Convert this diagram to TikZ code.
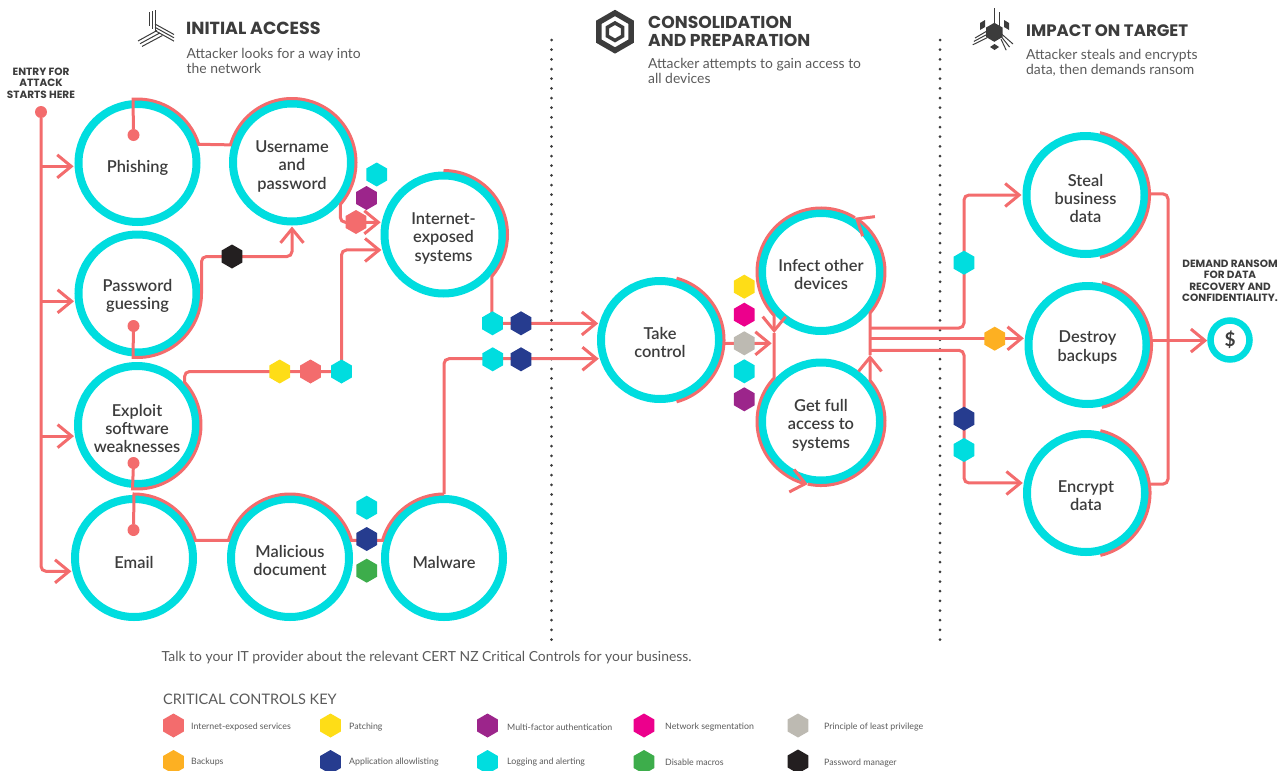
\documentclass[tikz,border=0pt]{standalone}
\usepackage{fontspec}
\setmainfont{Lato}
\newfontfamily\headfont{Poppins}
\newfontfamily\stagefont{Lato Semibold}
\usetikzlibrary{arrows.meta, shapes.geometric}
\definecolor{coral}{HTML}{F36C6D}
\definecolor{ringcyan}{HTML}{00DDDF}
\definecolor{inkgrey}{HTML}{3C3C3C}
\definecolor{softgrey}{HTML}{5A5A5A}
\definecolor{ctlyellow}{HTML}{FEDD17}
\definecolor{ctlpurple}{HTML}{9C258B}
\definecolor{ctlmagenta}{HTML}{EC008C}
\definecolor{ctlstone}{HTML}{BDBAB2}
\definecolor{ctlorange}{HTML}{FDB022}
\definecolor{ctlblue}{HTML}{263C8F}
\definecolor{ctlgreen}{HTML}{3DAD4B}
\definecolor{ctlblack}{HTML}{231F20}
\begin{document}
\begin{tikzpicture}[
    x=1pt, y=-1pt,
    every node/.style={align=center, text=inkgrey},
    stage/.style={circle, draw=ringcyan, line width=8pt, minimum size=118pt, outer sep=5pt, inner sep=0pt, font=\stagefont\fontsize{16.4}{18.4}\selectfont, execute at begin node={\rule{0pt}{#1}}},
    stage/.default=21pt,
    stagetwo/.style={stage=35.5pt},
    stagethree/.style={stage=56pt},
    dot/.style={circle, fill=coral, minimum size=12pt, inner sep=0pt},
    flow/.style={draw=coral, line width=3pt},
    flowarrow/.style={flow, -{Straight Barb[length=14pt, width=23pt]}},
    hexa/.style={regular polygon, regular polygon sides=6, shape border rotate=30, minimum size=24pt, inner sep=0pt, outer sep=0pt},
    heading/.style={anchor=west, align=left, inner sep=0pt, font=\headfont\fontsize{17.2}{18}\selectfont\bfseries},
    blurb/.style={anchor=west, align=left, inner sep=0pt, text=softgrey, font=\fontsize{13.9}{15}\selectfont},
    caps/.style={font=\headfont\fontsize{10.5}{11.5}\selectfont\bfseries},
    keytext/.style={anchor=west, inner sep=0pt, text=softgrey, font=\fontsize{8.8}{10}\selectfont},
    divider/.style={draw=inkgrey, line width=3pt, line cap=round, dash pattern=on 0pt off 9.67pt},
    iconline/.style={draw=inkgrey, line width=1pt}
]
    \useasboundingbox (0,0) rectangle (1288,771);

    % Section icons
    \foreach \dx in {0,3,6} {
        \draw[iconline] (149+\dx,12-\dx/3) -- (149+\dx,26+\dx);
        \draw[iconline] (155,24+\dx*1.1) -- (174,34.5+\dx*1.1);
        \draw[iconline] (138+\dx/1.5,41+\dx/1.1) -- (157+\dx/1.1,30.5+\dx/1.2);
    }
    \node[hexa, draw=inkgrey, line width=5.5pt, minimum size=37.5pt] (hexouter) at (615,31.7) {};
    \node[hexa, draw=inkgrey, line width=3.5pt, minimum size=17.5pt] (hexinner) at (615,31.7) {};
    \node[hexa, fill=inkgrey, minimum size=19pt] (corehex) at (994.3,32.3) {};
    \draw[iconline] (994.5,8) -- (994.5,24);
    \draw[iconline] (999.5,12) -- (999.5,26);
    \foreach \dy in {0,3.4,6.8} {
        \draw[iconline] (975-\dy/3,38+\dy) -- (987,31+\dy);
        \draw[iconline] (1001,33.5+\dy/1.2) -- (1013-\dy,44+\dy/1.1);
    }
    \fill[inkgrey] (980,23) -- (985,20) -- (985,27) -- (980,30) -- cycle;
    \fill[inkgrey] (1004,20) -- (1009,23) -- (1009,30) -- (1004,27) -- cycle;
    \fill[inkgrey] (994.5,44) -- (999,47) -- (994.5,50) -- (990,47) -- cycle;

    % Section headings
    \node[heading, font=\headfont\fontsize{17.5}{18}\selectfont\bfseries] (accesshead) at (186,28) {INITIAL ACCESS};
    \node[blurb] (accessblurb) at (186.5,61) {Attacker looks for a way into\\the network};
    \node[heading] (prephead) at (648,31) {CONSOLIDATION\\AND PREPARATION};
    \node[blurb] (prepblurb) at (648,71) {Attacker attempts to gain access to\\all devices};
    \node[heading, font=\headfont\fontsize{16.6}{18}\selectfont\bfseries] (impacthead) at (1026,31) {IMPACT ON TARGET};
    \node[blurb] (impactblurb) at (1026,62.5) {Attacker steals and encrypts\\data, then demands ransom};

    % Dotted dividers
    \draw[divider] (551.5,40) -- (551.5,640);
    \draw[divider] (940,40) -- (940,640);

    % Initial access stages
    \node[stage] (phishing) at (137.5,163) {Phishing};
    \node[stagethree] (username) at (292,162.5) {Username\\and\\password};
    \node[stagethree] (internet) at (443.5,234.5) {Internet-\\exposed\\systems};
    \node[stagetwo] (password) at (137.5,293.5) {Password\\guessing};
    \node[stagethree] (exploit) at (137,425) {Exploit\\software\\weaknesses};
    \node[stage] (email) at (134,558) {Email};
    \node[stagetwo] (malicious) at (290,558) {Malicious\\document};
    \node[stage] (malware) at (444,558) {Malware};

    % Later stages
    \node[stagetwo] (take) at (660,340) {Take\\control};
    \node[stagetwo] (infect) at (821,272) {Infect other\\devices};
    \node[stagethree] (fullaccess) at (821,421.5) {Get full\\access to\\systems};
    \node[stagethree] (steal) at (1085.5,195) {Steal\\business\\data};
    \node[stagetwo] (destroy) at (1087.5,345) {Destroy\\backups};
    \node[stagetwo] (encrypt) at (1086,493) {Encrypt\\data};

    % Ransom demand
    \node[circle, draw=ringcyan, line width=6.5pt, minimum size=39pt, inner sep=0pt, font=\fontsize{19}{19}\selectfont\bfseries] (dollar) at (1230,340) {\$};
    \node[caps] (demand) at (1230,281) {DEMAND RANSOM\\FOR DATA\\RECOVERY AND\\CONFIDENTIALITY.};

    % Entry point
    \node[caps] (entrytext) at (41,83) {ENTRY FOR\\ATTACK\\STARTS HERE};
    \node[dot] (entry) at (41,112) {};
    \node[dot] (phishdot) at (133.5,135) {};
    \node[dot] (guessdot) at (133.5,326) {};
    \node[dot] (exploitdot) at (133.5,463) {};
    \node[dot] (emaildot) at (133.5,530) {};

    % Bends and joins
    \coordinate (softbend) at (341.5,371.5);
    \coordinate (tophex) at (492.5,323.3);
    \coordinate (stealbend) at (964,262.7);
    \coordinate (encryptbend) at (964,418.7);
    \coordinate (gatherin) at (771.7,343.3);
    \coordinate (loopleft) at (774.2,333);
    \coordinate (loopright) at (870,355);
    \coordinate (bustop) at (870,328);
    \coordinate (buslow) at (870,350.3);
    \coordinate (ransombus) at (1168,340);

    % Entry connections
    \draw[flowarrow, rounded corners=5pt] (entry) |- (email.192);
    \draw[flowarrow] (entry |- phishing.183) -- (phishing.183);
    \draw[flowarrow] (entry |- password.187) -- (password.187);
    \draw[flowarrow] (entry |- exploit.190) -- (exploit.190);

    % Initial access connections
    \draw[flowarrow] (phishdot) -- (phishing.94) arc[start angle=94, end angle=17, radius=64pt] -- (username.164) arc[start angle=164, end angle=-41, radius=64pt] [rounded corners=5pt] |- (internet.169);
    \draw[flowarrow] (guessdot) -- (password.266) arc[start angle=-94, end angle=0, radius=64pt] [rounded corners=5pt] |- (232,256.5) -| (username.south);
    \draw[flowarrow] (exploitdot) -- (exploit.266) arc[start angle=-94, end angle=42, radius=64pt] [rounded corners=5pt] |- (softbend) |- (internet.194);
    \draw[flow] (emaildot) -- (email.90) arc[start angle=90, end angle=16, radius=64pt] -- (malicious.164) arc[start angle=164, end angle=16, radius=64pt] -- (malware.164) arc[start angle=164, end angle=90, radius=64pt];
    \draw[flowarrow, rounded corners=5pt] (malware.90) |- (take.197);
    \draw[flowarrow] (internet.90) arc[start angle=90, end angle=-41, radius=64pt] |- (take.165);

    % Consolidation connections
    \draw[flow] (take.75) arc[start angle=75, end angle=-75, radius=64pt];
    \draw[flowarrow] (take.-3) -- (gatherin);
    \draw[flowarrow] (infect.58) arc[start angle=58, end angle=223, radius=64pt] -- (loopleft);
    \draw[flowarrow] (loopleft) -- (fullaccess.137) arc[start angle=137, end angle=258, radius=64pt];
    \draw[flowarrow] (fullaccess.258) arc[start angle=258, end angle=400, radius=64pt] -- (loopright);
    \draw[flowarrow] (loopright) -- (infect.-40) arc[start angle=-40, end angle=58, radius=64pt];

    % Impact connections
    \draw[flowarrow, rounded corners=5pt] (bustop) -| (stealbend) |- (steal.180);
    \draw[flowarrow] (loopright |- destroy.174) -- (destroy.174);
    \draw[flowarrow, rounded corners=5pt] (buslow) -| (encryptbend) |- (encrypt.171);
    \draw[flow] (steal.77) arc[start angle=77, end angle=-77, radius=64pt];
    \draw[flow] (destroy.77) arc[start angle=77, end angle=-77, radius=64pt];
    \draw[flow] (encrypt.77) arc[start angle=77, end angle=-77, radius=64pt];
    \draw[flow, rounded corners=5pt] (steal.1) -| (ransombus) |- (encrypt.8);
    \draw[flowarrow] (destroy.4) -- (destroy.4 -| dollar.west);

    % Control hexagons
    \node[hexa, fill=ringcyan] (hexA) at (376.7,174.5) {};
    \node[hexa, fill=ctlpurple] (hexB) at (366.5,198) {};
    \node[hexa, fill=coral] (hexC) at (356,222) {};
    \node[hexa, fill=ctlblack] (hexD) at (232,256.5) {};
    \node[hexa, fill=ctlyellow] (hexE) at (279.7,371.5) {};
    \node[hexa, fill=coral] (hexF) at (310.5,371.5) {};
    \node[hexa, fill=ringcyan] (hexG) at (softbend) {};
    \node[hexa, fill=ringcyan] (hexH) at (366.7,507.7) {};
    \node[hexa, fill=ctlblue] (hexI) at (366.7,539) {};
    \node[hexa, fill=ctlgreen] (hexJ) at (366.7,570.7) {};
    \node[hexa, fill=ringcyan] (hexK) at (tophex) {};
    \node[hexa, fill=ctlblue] (hexL) at (521,323.3) {};
    \node[hexa, fill=ringcyan] (hexM) at (492.7,359.3) {};
    \node[hexa, fill=ctlblue] (hexN) at (521,359.3) {};
    \node[hexa, fill=ctlyellow] (hexO) at (744.3,286.7) {};
    \node[hexa, fill=ctlmagenta] (hexP) at (744.3,314.7) {};
    \node[hexa, fill=ctlstone] (hexQ) at (744.3,343.3) {};
    \node[hexa, fill=ringcyan] (hexR) at (744.3,371.3) {};
    \node[hexa, fill=ctlpurple] (hexS) at (744.3,399.3) {};
    \node[hexa, fill=ringcyan] (hexT) at (stealbend) {};
    \node[hexa, fill=ctlorange] (hexU) at (994.7,338.7) {};
    \node[hexa, fill=ctlblue] (hexV) at (encryptbend) {};
    \node[hexa, fill=ringcyan] (hexW) at (964,450) {};

    % Footer
    \node[blurb] (advice) at (161.5,658) {Talk to your IT provider about the relevant CERT NZ Critical Controls for your business.};
    \node[blurb, font=\fontsize{14.5}{15}\selectfont] (keytitle) at (163,699) {CRITICAL CONTROLS KEY};

    % Key entries
    \node[hexa, fill=coral] (keyA) at (173.5,725.5) {};
    \node[keytext] (keyAtext) at (191,727) {Internet-exposed services};
    \node[hexa, fill=ctlyellow] (keyB) at (330.5,725.5) {};
    \node[keytext] (keyBtext) at (349,727) {Patching};
    \node[hexa, fill=ctlpurple] (keyC) at (487.5,725.5) {};
    \node[keytext] (keyCtext) at (507,727) {Multi-factor authentication};
    \node[hexa, fill=ctlmagenta] (keyD) at (644,725.5) {};
    \node[keytext] (keyDtext) at (665,727) {Network segmentation};
    \node[hexa, fill=ctlstone] (keyE) at (798,725.5) {};
    \node[keytext] (keyEtext) at (824,727) {Principle of least privilege};
    \node[hexa, fill=ctlorange] (keyF) at (173.5,762) {};
    \node[keytext] (keyFtext) at (191,762) {Backups};
    \node[hexa, fill=ctlblue] (keyG) at (330.5,762) {};
    \node[keytext] (keyGtext) at (349,762) {Application allowlisting};
    \node[hexa, fill=ringcyan] (keyH) at (487.5,762) {};
    \node[keytext] (keyHtext) at (507,762) {Logging and alerting};
    \node[hexa, fill=ctlgreen] (keyI) at (644,762) {};
    \node[keytext] (keyItext) at (665,762) {Disable macros};
    \node[hexa, fill=ctlblack] (keyJ) at (798,761.5) {};
    \node[keytext] (keyJtext) at (824,763) {Password manager};
\end{tikzpicture}
\end{document}
